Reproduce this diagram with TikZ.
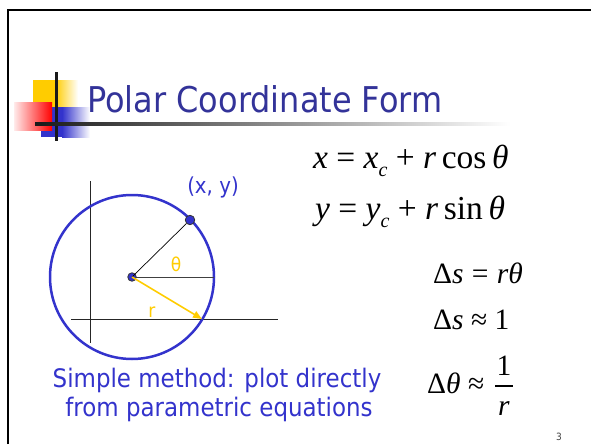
\documentclass[tikz,border=0pt]{standalone}
\usepackage{fontspec}
\setmainfont{DejaVu Sans}
\newfontfamily\tah[FakeStretch=0.9]{DejaVu Sans}
\newfontfamily\tms{Liberation Serif}
\usetikzlibrary{arrows.meta}
\definecolor{titleblue}{HTML}{333399}
\definecolor{ablue}{HTML}{3333CC}
\definecolor{gold}{HTML}{FFCC00}
\newcommand{\fsz}[1]{\fontsize{#1}{#1}\selectfont}
\newcommand{\gp}{\hspace{0.28em}}
\newcommand{\gq}{\hspace{0.25em}}
\tikzset{
  eqn/.style={anchor=base west, inner sep=0pt, font=\tms},
  bluetxt/.style={anchor=base, inner sep=0pt, text=ablue, font=\tah\fsz{25.5}},
  dot/.style={circle, fill=ablue, draw=black!80, line width=0.8pt, inner sep=0pt},
  lbl/.style={inner sep=0pt, font=\tah\fsz{19}},
}
\begin{document}
\begin{tikzpicture}[x=1pt,y=-1pt]
\useasboundingbox (0,0) rectangle (591,444);
% frame
\draw[line width=2.5pt] (7.8,444) -- (7.8,10.2) -- (591,10.2);
% logo
\fill[gold] (33,80) rectangle (55,107);
\shade[left color=gold, right color=white] (55,80) rectangle (78,107);
\fill[ablue] (41,107) rectangle (62,137);
\shade[left color=ablue, right color=white] (62,107) rectangle (90,137);
\shade[left color=red!8, right color=red] (14,102) rectangle (52,130);
\draw[line width=3pt, black!90] (56.5,72) -- (56.5,141);
\shade[left color=black!90, right color=white] (35,122.5) rectangle (510,125.7);
% title
\node[anchor=base west, inner sep=0pt, text=titleblue, font=\tah\fsz{35.5}] (title) at (87,112) {Polar Coordinate Form};
% axes
\draw[line width=1pt, black!85] (90.7,181) -- (90.7,343);
\draw[line width=1pt, black!85] (71,319) -- (278,319);
% circle
\coordinate (C) at (132,277);
\draw[ablue, line width=2.5pt] (C) circle[radius=82];
\coordinate (E) at (214,277);
\coordinate (R) at (202,319);
\draw[line width=1pt, black!75] (C) -- (E);
\node[dot, minimum size=9.5pt] (P) at (190,220) {};
\node[dot, minimum size=8.5pt] (Cn) at (C) {};
\draw[line width=0.7pt] (Cn.center) -- (P);
\draw[gold, line width=1.6pt, -{Triangle[length=9pt,width=7pt]}] (Cn.center) -- (R);
\node[lbl, text=gold] (th) at (176,264) {θ};
\node[lbl, text=gold] (rl) at (152,312) {r};
\node[inner sep=0pt, text=ablue, font=\tah\fsz{22}] (xy) at (213,187) {(x, y)};
% equations
\node[eqn, font=\tms\fsz{33.5}] (eq1) at (313,168) {\textit{x}\gq=\gq\textit{x}\raisebox{-0.26em}{\fsz{20}\textit{c}}\gq+\gq\textit{r}\,cos\,\textit{θ}};
\node[eqn, font=\tms\fsz{33.5}] (eq2) at (315,219) {\textit{y}\gq=\gq\textit{y}\raisebox{-0.26em}{\fsz{20}\textit{c}}\gq+\gq\textit{r}\,sin\,\textit{θ}};
\node[eqn, font=\tms\fsz{29.5}] (eq3) at (433,283) {Δ\textit{s}\gp=\gp\textit{rθ}};
\node[eqn, font=\tms\fsz{29.5}] (eq4) at (433,329) {Δ\textit{s}\gq≈\gq1};
\node[eqn, font=\tms\fsz{29.5}] (eq5) at (427,393) {Δ\textit{θ}\gq≈};
\node[anchor=base, inner sep=0pt, font=\tms\fsz{29.5}] (num) at (504,375) {1};
\node[anchor=base, inner sep=0pt, font=\tms\fsz{29.5}] (den) at (504,415) {\textit{r}};
\draw[line width=1.2pt] (495,386) -- (513,386);
% caption
\node[bluetxt] (cap1) at (217,387) {Simple method: plot directly};
\node[bluetxt] (cap2) at (219,416) {from parametric equations};
% page number
\node[inner sep=0pt, text=black!75, font=\tah\fsz{10}] (pg) at (559,437) {3};
\end{tikzpicture}
\end{document}
